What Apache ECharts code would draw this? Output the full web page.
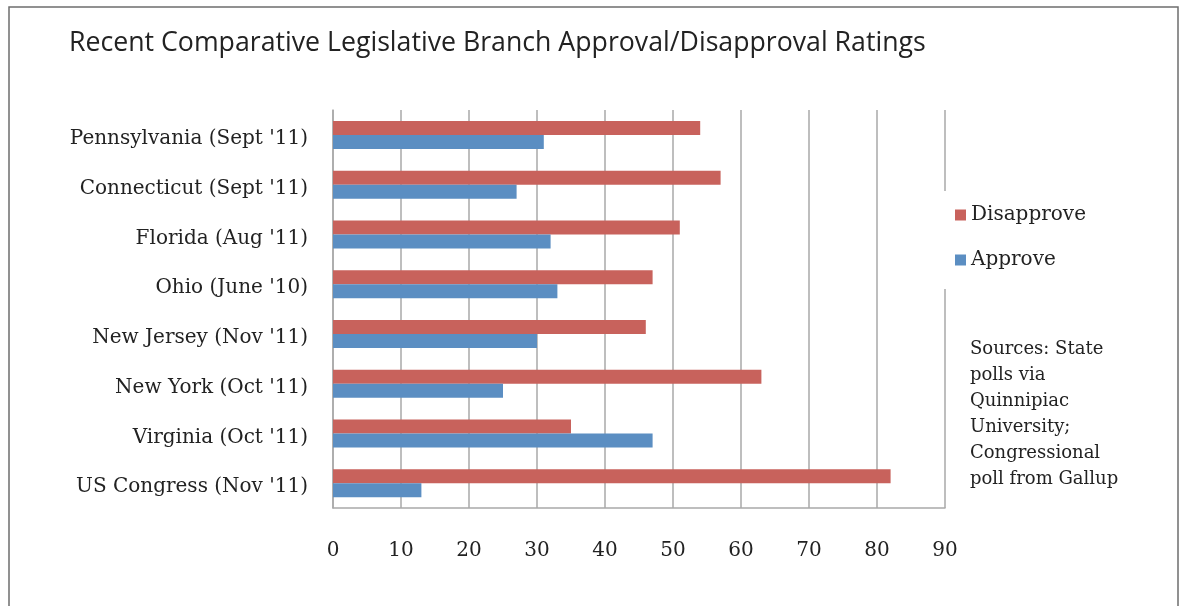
<!DOCTYPE html>
<html>
<head>
<meta charset="utf-8">
<style>
  html, body { margin: 0; padding: 0; background: #fff; }
  #chart { width: 1181px; height: 606px; }
</style>
<script src="https://cdn.jsdelivr.net/npm/echarts@6/dist/echarts.min.js"></script>
</head>
<body>
<div id="chart"></div>
<script>
// Poll sources, listed top to bottom
const categories = [
  "Pennsylvania (Sept '11)",
  "Connecticut (Sept '11)",
  "Florida (Aug '11)",
  "Ohio (June '10)",
  "New Jersey (Nov '11)",
  "New York (Oct '11)",
  "Virginia (Oct '11)",
  "US Congress (Nov '11)"
];
const disapprove = [54, 57, 51, 47, 46, 63, 35, 82];
const approve = [31, 27, 32, 33, 30, 25, 47, 13];
const xTicks = [0, 10, 20, 30, 40, 50, 60, 70, 80, 90];
const sourceLines = [
  'Sources: State',
  'polls via',
  'Quinnipiac',
  'University;',
  'Congressional',
  'poll from Gallup'
];

const serif = '"DejaVu Serif", "Liberation Serif", serif';
const gridColor = '#a9a9a9';

const chart = echarts.init(document.getElementById('chart'), null, { renderer: 'canvas' });

chart.setOption({
  animation: false,
  backgroundColor: '#fff',
  title: {
    text: 'Recent Comparative Legislative Branch Approval/Disapproval Ratings',
    left: 64,
    top: 25,
    textStyle: {
      fontFamily: '"Open Sans", "Noto Sans", sans-serif',
      fontWeight: 'normal',
      fontSize: 26.7,
      color: '#222'
    }
  },
  grid: { left: 333, right: 236, top: 110, bottom: 98 },
  legend: {
    orient: 'vertical',
    left: 942,
    top: 191,
    padding: [14, 10, 19, 13],
    backgroundColor: '#fff',
    itemWidth: 11,
    itemHeight: 11,
    itemGap: 25,
    icon: 'rect',
    data: ['Disapprove', 'Approve'],
    textStyle: { fontFamily: serif, fontSize: 20, color: '#222' }
  },
  xAxis: {
    type: 'value',
    min: xTicks[0],
    max: xTicks[xTicks.length - 1],
    interval: 10,
    axisLine: { show: true, lineStyle: { color: gridColor, width: 1.5 } },
    axisTick: { show: false },
    splitLine: { show: true, lineStyle: { color: gridColor, width: 1.5 } },
    axisLabel: { margin: 33, fontFamily: serif, fontSize: 20, color: '#222' }
  },
  yAxis: {
    type: 'category',
    data: categories,
    inverse: true,
    axisLine: { show: true, lineStyle: { color: gridColor, width: 1.5 } },
    axisTick: { show: false },
    axisLabel: {
      margin: 25,
      formatter: (v) => '{c|' + v + '}',
      rich: {
        c: {
          fontFamily: serif,
          fontSize: 20,
          color: '#222',
          padding: [8, 0, 0, 0]
        }
      }
    }
  },
  series: [
    {
      name: 'Disapprove',
      type: 'bar',
      data: disapprove,
      barWidth: 14,
      barGap: '0%',
      itemStyle: { color: '#c8625c' }
    },
    {
      name: 'Approve',
      type: 'bar',
      data: approve,
      barWidth: 14,
      barGap: '0%',
      itemStyle: { color: '#5b8ec2' }
    }
  ],
  graphic: [
    {
      type: 'rect',
      shape: { x: 9, y: 7, width: 1169, height: 620 },
      style: { fill: 'none', stroke: '#6e6e6e', lineWidth: 1.5 },
      silent: true
    },
    {
      type: 'text',
      left: 970,
      top: 336,
      style: {
        text: sourceLines.join('\n'),
        font: '18px ' + serif,
        lineHeight: 26,
        fill: '#222'
      }
    }
  ]
});
</script>
</body>
</html>
